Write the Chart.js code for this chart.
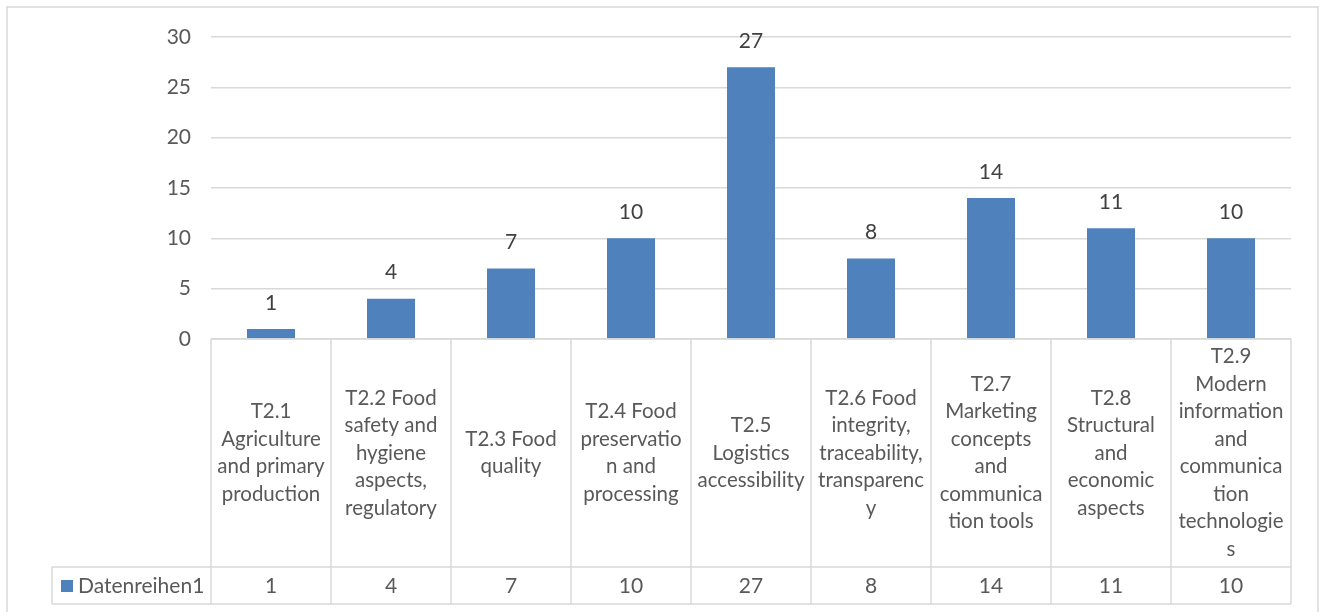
<!DOCTYPE html>
<html>
<head>
<meta charset="utf-8">
<script src="https://cdn.jsdelivr.net/npm/chart.js@4.4.1/dist/chart.umd.min.js"></script>
<style>
  html, body { margin: 0; padding: 0; background: #ffffff; }
  #wrap { width: 1320px; height: 612px; }
</style>
</head>
<body>
<div id="wrap"><canvas id="c" width="1320" height="612"></canvas></div>
<script>
// Category labels, already broken into the lines shown in the table cells
const categories = [
  ["T2.1", "Agriculture", "and primary", "production"],
  ["T2.2 Food", "safety and", "hygiene", "aspects,", "regulatory"],
  ["T2.3 Food", "quality"],
  ["T2.4 Food", "preservatio", "n and", "processing"],
  ["T2.5", "Logistics", "accessibility"],
  ["T2.6 Food", "integrity,", "traceability,", "transparenc", "y"],
  ["T2.7", "Marketing", "concepts", "and", "communica", "tion tools"],
  ["T2.8", "Structural", "and", "economic", "aspects"],
  ["T2.9", "Modern", "information", "and", "communica", "tion", "technologie", "s"]
];
const seriesName = "Datenreihen1";
const values = [1, 4, 7, 10, 27, 8, 14, 11, 10];
const yTicks = [0, 5, 10, 15, 20, 25, 30];

const FONT = "Lato, 'Open Sans', sans-serif";
const BAR = "#4f81bd";
const GRID = "#d9d9d9";
const TEXT = "#595959";
const LABEL = "#404040";

// Data table drawn under the plot: category row + value row with legend key
const dataTable = {
  id: "dataTable",
  afterDraw(chart) {
    const ctx = chart.ctx;
    const x = chart.scales.x;
    const area = chart.chartArea;
    const n = categories.length;
    const cw = (x.right - x.left) / n;
    const top = area.bottom;
    const mid = 567;
    const bot = 604;
    const keyLeft = 52;

    ctx.save();
    // outer frame
    ctx.strokeStyle = GRID;
    ctx.lineWidth = 1.5;
    ctx.strokeRect(7, 7, 1311, 620);

    // table grid
    ctx.beginPath();
    ctx.moveTo(x.left, top); ctx.lineTo(x.right, top);
    ctx.moveTo(keyLeft, mid); ctx.lineTo(x.right, mid);
    ctx.moveTo(keyLeft, bot); ctx.lineTo(x.right, bot);
    ctx.moveTo(keyLeft, mid); ctx.lineTo(keyLeft, bot);
    for (let i = 0; i <= n; i++) {
      const bx = x.left + i * cw;
      ctx.moveTo(bx, top); ctx.lineTo(bx, bot);
    }
    ctx.stroke();

    // category labels, centred in each cell
    ctx.fillStyle = TEXT;
    ctx.font = "20.5px " + FONT;
    ctx.textAlign = "center";
    ctx.textBaseline = "middle";
    const lh = 27.5;
    const cy = (top + mid) / 2;
    categories.forEach((lines, i) => {
      const cx = x.getPixelForValue(i);
      const y0 = cy - (lines.length - 1) * lh / 2;
      lines.forEach((t, k) => ctx.fillText(t, cx, y0 + k * lh));
    });

    // value row
    ctx.font = "21px " + FONT;
    const vy = (mid + bot) / 2 + 1;
    values.forEach((v, i) => ctx.fillText(String(v), x.getPixelForValue(i), vy));

    // legend key + series name
    ctx.fillStyle = BAR;
    ctx.fillRect(61, 580, 12, 12);
    ctx.fillStyle = TEXT;
    ctx.textAlign = "left";
    ctx.fillText(seriesName, 78, vy);

    // value labels above bars
    const meta = chart.getDatasetMeta(0);
    ctx.fillStyle = LABEL;
    ctx.textAlign = "center";
    ctx.font = "21px " + FONT;
    meta.data.forEach((bar, i) => {
      ctx.fillText(String(values[i]), bar.x, bar.y - 26);
    });
    ctx.restore();
  }
};

new Chart(document.getElementById("c"), {
  type: "bar",
  data: {
    labels: categories,
    datasets: [{
      label: seriesName,
      data: values,
      backgroundColor: BAR,
      borderWidth: 0,
      categoryPercentage: 1.0,
      barPercentage: 0.4
    }]
  },
  options: {
    responsive: false,
    animation: false,
    devicePixelRatio: 1,
    layout: { padding: { left: 8, right: 29, top: 37, bottom: 273 } },
    plugins: { legend: { display: false }, tooltip: { enabled: false } },
    scales: {
      x: { display: false },
      y: {
        min: 0,
        max: 30,
        afterBuildTicks: s => { s.ticks = yTicks.map(v => ({ value: v })); },
        afterFit: s => { s.width = 203; },
        border: { display: false },
        grid: { color: GRID, lineWidth: 1.5, drawTicks: false },
        ticks: { color: TEXT, padding: 20, font: { family: FONT, size: 21 } }
      }
    }
  },
  plugins: [dataTable]
});
</script>
</body>
</html>
